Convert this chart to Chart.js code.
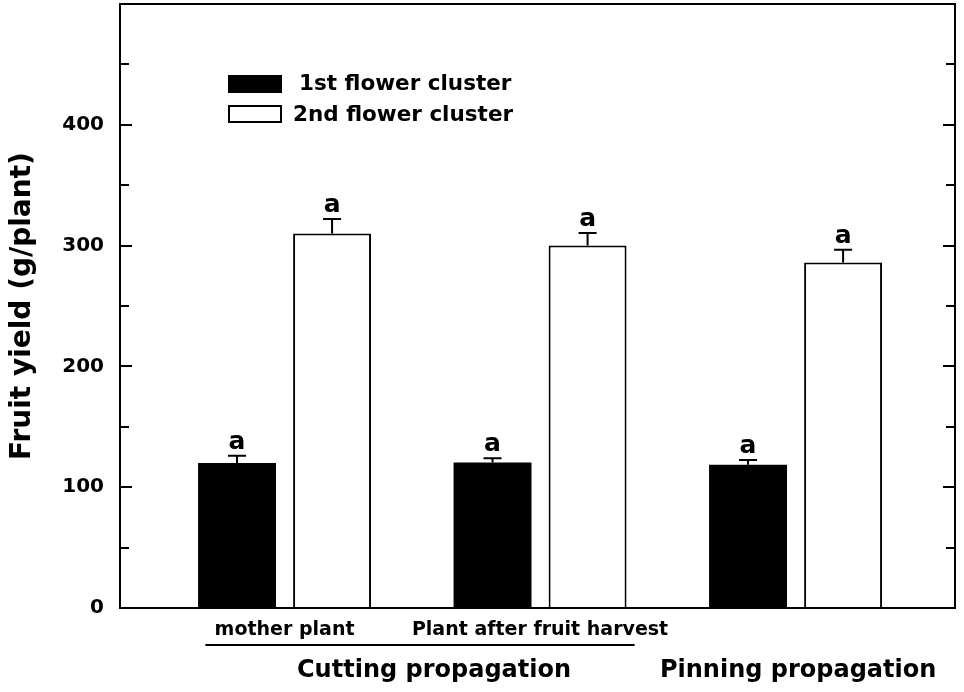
<!DOCTYPE html>
<html>
<head>
<meta charset="utf-8">
<script src="https://cdn.jsdelivr.net/npm/chart.js@4.4.1/dist/chart.umd.min.js"></script>
<style>
  html, body { margin: 0; padding: 0; background: #fff; }
  canvas { display: block; }
</style>
</head>
<body>
<canvas id="chart" width="964" height="692"></canvas>
<script>
// Datos
const groupPos = [1, 2, 3];
const subLabels = ['mother plant', 'Plant after fruit harvest', ''];
const seriesNames = ['1st flower cluster', '2nd flower cluster'];
const firstCluster = [120, 120.5, 118.5];
const secondCluster = [310, 300, 286];
const errFirst = [6, 3.5, 4];
const errSecond = [12, 10.5, 10.5];
const letters = ['a', 'a', 'a'];
const yTicks = [0, 100, 200, 300, 400];

const FONT = '"DejaVu Sans", sans-serif';

const toPts = (vals) => vals.map((v, i) => ({ x: groupPos[i], y: v }));

// sin márgenes extra por las etiquetas: el área queda fija
function noPad(s){
  s.paddingTop = 0; s.paddingBottom = 0;
  s.paddingLeft = 0; s.paddingRight = 0;
}

// Dibujo extra: marco, ticks internos, barras de error, letras, leyenda, grupos
const extras = {
  id: 'extras',
  afterDatasetsDraw(chart){
    const { ctx, chartArea: a, scales: { x, y } } = chart;
    ctx.save();
    ctx.strokeStyle = '#000';
    ctx.fillStyle = '#000';
    ctx.lineWidth = 2;

    // barras de error + letras
    const errs = [errFirst, errSecond];
    const vals = [firstCluster, secondCluster];
    ctx.font = 'bold 25px ' + FONT;
    ctx.textAlign = 'center';
    ctx.textBaseline = 'alphabetic';
    for(let d = 0; d < 2; d++){
      const meta = chart.getDatasetMeta(d);
      meta.data.forEach((bar, i) => {
        const top = y.getPixelForValue(vals[d][i]);
        const cap = y.getPixelForValue(vals[d][i] + errs[d][i]);
        ctx.beginPath();
        ctx.moveTo(bar.x, top);
        ctx.lineTo(bar.x, cap);
        ctx.moveTo(bar.x - 9, cap);
        ctx.lineTo(bar.x + 9, cap);
        ctx.stroke();
        ctx.fillText(letters[i], bar.x, cap - 7);
      });
    }

    // marco
    ctx.strokeRect(a.left, a.top, a.right - a.left, a.bottom - a.top);

    // ticks hacia dentro (izq y der)
    for(let v = 50; v < 500; v += 50){
      const py = Math.round(y.getPixelForValue(v));
      const len = v % 100 === 0 ? 12 : 9;
      ctx.beginPath();
      ctx.moveTo(a.left, py); ctx.lineTo(a.left + len, py);
      ctx.moveTo(a.right, py); ctx.lineTo(a.right - len, py);
      ctx.stroke();
    }

    // leyenda
    ctx.fillRect(228, 75, 54, 18);
    ctx.fillStyle = '#fff';
    ctx.fillRect(229, 106, 52, 16);
    ctx.strokeRect(229, 106, 52, 16);
    ctx.fillStyle = '#000';
    ctx.font = 'bold 21.5px ' + FONT;
    ctx.textAlign = 'left';
    ctx.textBaseline = 'middle';
    ctx.fillText(seriesNames[0], 299, 84);
    ctx.fillText(seriesNames[1], 293, 115);

    // línea y nombres de grupos
    ctx.beginPath();
    ctx.moveTo(x.getPixelForValue(0.69), 645);
    ctx.lineTo(x.getPixelForValue(2.37), 645);
    ctx.stroke();
    ctx.font = 'bold 24px ' + FONT;
    ctx.textAlign = 'center';
    ctx.fillText('Cutting propagation', x.getPixelForValue(1.585), 671);
    ctx.fillText('Pinning propagation', x.getPixelForValue(3.01), 671);
    ctx.restore();
  }
};

new Chart(document.getElementById('chart'), {
  type: 'bar',
  data: {
    datasets: [
      { label: seriesNames[0], data: toPts(firstCluster), backgroundColor: '#000', borderColor: '#000', borderWidth: 0 },
      { label: seriesNames[1], data: toPts(secondCluster), backgroundColor: '#fff', borderColor: '#000', borderWidth: 2 }
    ]
  },
  options: {
    responsive: false,
    animation: false,
    layout: { padding: { top: 4, right: 9, left: 0, bottom: 0 } },
    datasets: { bar: { categoryPercentage: 0.744, barPercentage: 0.82 } },
    plugins: { legend: { display: false }, tooltip: { enabled: false } },
    scales: {
      x: {
        type: 'linear',
        min: 0.356,
        max: 3.624,
        offset: false,
        grid: { display: false },
        border: { display: false },
        afterBuildTicks: (s) => { s.ticks = groupPos.map(v => ({ value: v })); },
        afterFit: (s) => { s.height = 84; noPad(s); },
        ticks: {
          padding: 3,
          color: '#000',
          font: { family: FONT, size: 19, weight: 'bold' },
          callback: (v) => subLabels[groupPos.indexOf(v)] ?? ''
        }
      },
      y: {
        min: 0,
        max: 500,
        grid: { display: false },
        border: { display: false },
        afterBuildTicks: (s) => { s.ticks = yTicks.map(v => ({ value: v })); },
        afterFit: (s) => { s.width = 120; noPad(s); },
        title: {
          display: true,
          text: 'Fruit yield (g/plant)',
          color: '#000',
          font: { family: FONT, size: 28, weight: 'bold' },
          padding: { top: 6, bottom: 0 }
        },
        ticks: {
          padding: 8,
          color: '#000',
          font: { family: FONT, size: 20, weight: 'bold' }
        }
      }
    }
  },
  plugins: [extras]
});
</script>
</body>
</html>
